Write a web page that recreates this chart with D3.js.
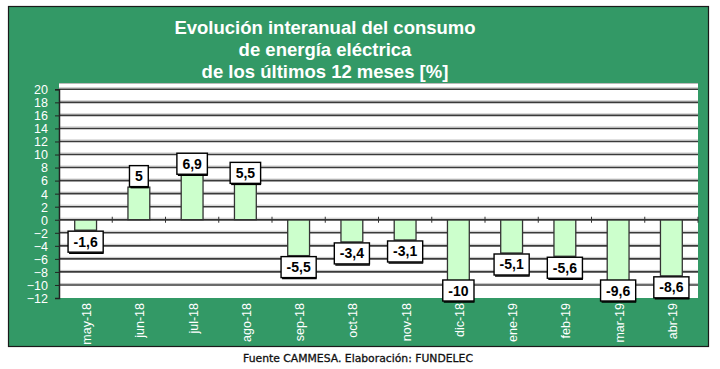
<!DOCTYPE html>
<html><head><meta charset="utf-8">
<script src="https://cdn.jsdelivr.net/npm/d3@7"></script>
<style>body{margin:0;background:#fff}svg{display:block}</style>
</head><body>
<script>
const categories = ["may-18","jun-18","jul-18","ago-18","sep-18","oct-18","nov-18","dic-18","ene-19","feb-19","mar-19","abr-19"];
const values = [-1.6, 5, 6.9, 5.5, -5.5, -3.4, -3.1, -10, -5.1, -5.6, -9.6, -8.6];
const labels = ["-1,6","5","6,9","5,5","-5,5","-3,4","-3,1","-10","-5,1","-5,6","-9,6","-8,6"];
const yTicks = [20,18,16,14,12,10,8,6,4,2,0,-2,-4,-6,-8,-10,-12];
const titleLines = ["Evolución interanual del consumo","de energía eléctrica","de los últimos 12 meses [%]"];
const footer = "Fuente CAMMESA. Elaboración: FUNDELEC";

const W = 720, H = 369;
const svg = d3.select("body").append("svg").attr("width", W).attr("height", H);
svg.append("rect").attr("x", 8.5).attr("y", 6.5).attr("width", 700).attr("height", 340)
  .attr("fill", "#339966").attr("stroke", "#1a1a1a").attr("stroke-width", 1.2);

const pl = 59, pr = 698, pt = 83, pb = 298;
svg.append("rect").attr("x", pl).attr("y", pt).attr("width", pr - pl).attr("height", pb - pt).attr("fill", "#fff");

const y = d3.scaleLinear().domain([-12, 20]).range([298, 89.3]);
const x = d3.scaleBand().domain(categories).range([pl, pr]).paddingInner(0.59).paddingOuter(0.295);
const xb = d3.scaleBand().domain(categories).range([pl, pr]);

svg.append("line").attr("x1", pl).attr("x2", pr).attr("y1", pt + 0.5).attr("y2", pt + 0.5).attr("stroke", "#bbb").attr("stroke-width", 1);

const g = svg.append("g");
yTicks.filter(d => d !== -12).forEach(d => {
  g.append("line").attr("x1", pl).attr("x2", pr).attr("y1", y(d) - 1.5).attr("y2", y(d) - 1.5).attr("stroke", "#c4c4c4").attr("stroke-width", 1);
  g.append("line").attr("x1", pl).attr("x2", pr).attr("y1", y(d)).attr("y2", y(d)).attr("stroke", "#3a3a3a").attr("stroke-width", 1.6);
});

const yAxis = d3.axisLeft(y).tickValues(yTicks).tickSize(4).tickPadding(7).tickFormat(d3.format("d"));
const ya = svg.append("g").attr("transform", `translate(${pl},0)`).call(yAxis);
ya.select(".domain").attr("stroke", "#222").attr("stroke-width", 1.5);
ya.selectAll(".tick line").attr("stroke", "#222");
ya.selectAll("text").attr("fill", "#fff").attr("font-family", "Arial, Liberation Sans, sans-serif").attr("font-size", 12.5).attr("dy", "0.35em");

svg.append("g").selectAll("rect").data(values).join("rect")
  .attr("x", (d, i) => x(categories[i]))
  .attr("width", x.bandwidth())
  .attr("y", d => y(Math.max(0, d)))
  .attr("height", d => Math.abs(y(d) - y(0)))
  .attr("fill", "#ccffcc").attr("stroke", "#333").attr("stroke-width", 1.3);

svg.append("line").attr("x1", pl).attr("x2", pr).attr("y1", y(0)).attr("y2", y(0)).attr("stroke", "#333").attr("stroke-width", 1.5);
const tg = svg.append("g");
categories.forEach((c, i) => {
  if (i === 0) return;
  tg.append("line").attr("x1", xb(c)).attr("x2", xb(c)).attr("y1", y(0) - 3).attr("y2", y(0) + 3).attr("stroke", "#333").attr("stroke-width", 1);
});
tg.append("line").attr("x1", pr).attr("x2", pr).attr("y1", y(0) - 3).attr("y2", y(0) + 3).attr("stroke", "#333");

const lg = svg.append("g");
values.forEach((v, i) => {
  const cx = xb(categories[i]) + xb.bandwidth() / 2;
  const t = lg.append("text").attr("font-family", "Arial, Liberation Sans, sans-serif").attr("font-weight", "bold")
    .attr("font-size", 14).attr("text-anchor", "middle").attr("fill", "#000").text(labels[i]);
  const w = t.node().getComputedTextLength() + 11;
  const h = 21;
  const top = v >= 0 ? y(v) - h - 0.5 : Math.min(y(v) + 1, 301 - h);
  lg.insert("rect", "text").attr("x", cx - w / 2).attr("y", top).attr("width", w).attr("height", h)
    .attr("fill", "#fff").attr("stroke", "#000").attr("stroke-width", 1.4);
  lg.insert("line", "text").attr("x1", cx - w / 2 + 1).attr("x2", cx + w / 2 + 0.5).attr("y1", top + h + 1).attr("y2", top + h + 1).attr("stroke", "#000").attr("stroke-width", 1.5);
  t.attr("x", cx).attr("y", top + h / 2 + 5);
});

const xa = svg.append("g");
categories.forEach(c => {
  xa.append("text").attr("transform", `translate(${xb(c) + xb.bandwidth() / 2 + 1},303) rotate(-90)`)
    .attr("text-anchor", "end").attr("dy", "0.36em")
    .attr("fill", "#fff").attr("font-family", "Arial, Liberation Sans, sans-serif").attr("font-size", 12.5)
    .text(c);
});

const tt = svg.append("g");
titleLines.forEach((s, i) => {
  tt.append("text").attr("x", 325).attr("y", 34 + i * 22).attr("text-anchor", "middle")
    .attr("fill", "#fff").attr("font-family", "Arial, Liberation Sans, sans-serif").attr("font-weight", "bold")
    .attr("font-size", 18.5).text(s);
});

svg.append("text").attr("x", 358).attr("y", 362).attr("text-anchor", "middle")
  .attr("fill", "#111").attr("stroke", "#111").attr("stroke-width", 0.3)
  .attr("font-family", "DejaVu Sans, Verdana, sans-serif").attr("font-size", 10.8)
  .text(footer);
</script>
</body></html>
